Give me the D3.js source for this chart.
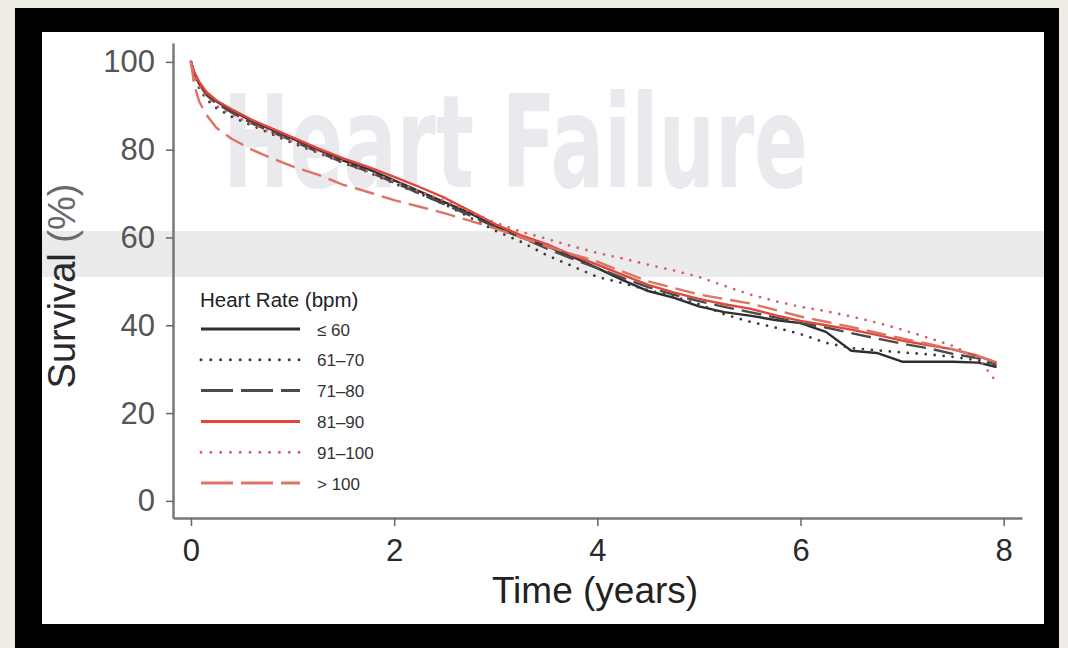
<!DOCTYPE html>
<html><head><meta charset="utf-8">
<script src="https://cdn.jsdelivr.net/npm/d3@7"></script>
<style>
body{margin:0;background:#efebe5;}
svg{display:block;}
</style>
</head><body>
<svg id="c" width="1068" height="648"></svg>
<script>
// ---- data ----
const times = [0, 0.03, 0.08, 0.15, 0.25, 0.4, 0.6, 0.8, 1.0, 1.25, 1.5, 1.75, 2.0, 2.25, 2.5, 2.75, 3.0, 3.25, 3.5, 3.75, 4.0, 4.25, 4.5, 4.75, 5.0, 5.25, 5.5, 5.75, 6.0, 6.25, 6.5, 6.75, 7.0, 7.25, 7.5, 7.75, 7.93];
const survLe60   = [100,97.5,95,93,91,89,86.5,84.5,82.5,80,77.5,75.5,73,70.5,68,65.5,62.5,60,58,55.7,53,50.3,47.8,46.3,44.3,43,42.2,41.2,40.5,38.5,34.2,33.7,31.7,31.7,31.7,31.5,30.5];
const surv61_70  = [100,97,94,91.5,89.5,87.5,85.5,83.5,81.5,79.3,77,74.8,72.3,70,67.5,64.5,61.5,59,56,53.5,51,49.6,48,46.5,44.8,42.5,40.8,39.5,38,36,34.8,34.3,33.8,33.4,32.8,32,31];
const surv71_80  = [100,97.5,95,92.5,90.5,88.5,86,84,82,79.5,77,75,72.5,70,67.5,65,62.3,60,57.5,55.2,53,50.8,48.7,47,45.5,44.2,43,41.8,40.5,39.5,38.2,37,35.8,34.8,33.5,32.5,31];
const surv81_90  = [100,97.8,95.5,93.2,91.2,89.2,86.8,84.8,82.8,80.3,78,76,73.8,71.5,69,66,63,60.5,58.5,56,53.8,51.5,49.2,47.5,46,44.8,43.8,42.3,41,40,39,37.8,36.5,35.5,34.5,33,31.5];
const surv91_100 = [100,97,94.5,92,90,88,85.8,83.8,81.8,79.5,77.3,75,72.8,70.5,68.3,65.8,63.3,61.3,59.7,58,56.5,55.2,53.8,52.5,51,49,47,45.5,44.2,43.2,42,40.6,39,37.2,35.3,32.5,27];
const survGt100  = [100,95,91,88,85,82.5,80,78,76.2,74.3,72,70.3,68.5,67,65.5,63.8,62,60,58,56.2,54.5,52.2,50,48.5,47,46,45,43.5,42,40.8,39.6,38.3,37,35.8,34.5,33,31.5];
const seriesNames = ["≤ 60", "61–70", "71–80", "81–90", "91–100", "> 100"];
const xTicks = [0, 2, 4, 6, 8];
const yTicks = [0, 20, 40, 60, 80, 100];

// ---- styles ----
const seriesValues = [survLe60, surv61_70, surv71_80, surv81_90, surv91_100, survGt100];
const seriesColors = ["#2e2e2e", "#3a3a3a", "#4a4a4a", "#e0463a", "#d65f66", "#dc7363"];
const plotDash   = [null, "0,9", "20,8", null, "0,9", "20,8"];
const legendDash = [null, "0,9.8", "32,8", null, "0,9.8", "32,8"];
const FONT = "'Liberation Sans', Arial, Helvetica, sans-serif";

const svg = d3.select("#c");
svg.append("rect").attr("x",0).attr("y",0).attr("width",1068).attr("height",648).attr("fill","#efebe5");
svg.append("rect").attr("x",15).attr("y",8).attr("width",1044).attr("height",640).attr("fill","#000");
svg.append("rect").attr("x",42).attr("y",32).attr("width",1002).attr("height",592).attr("fill","#fff");

// watermark band + text (text squeezed horizontally to the reference width)
svg.append("rect").attr("x",42).attr("y",231).attr("width",1002).attr("height",46).attr("fill","#ebebeb");
const wm = svg.append("text").attr("x",0).attr("y",0)
  .attr("font-family","'DejaVu Sans Condensed','Liberation Sans',Arial,sans-serif")
  .attr("font-size",128).attr("font-weight","bold").attr("fill","#eaeaee")
  .text("Heart Failure");
const wmLen = wm.node().getComputedTextLength() || 585;
wm.attr("transform", `translate(223,187) scale(${585 / wmLen},1)`);

const x = d3.scaleLinear().domain([-0.177, 8.18]).range([173, 1022]);
const y = d3.scaleLinear().domain([-3.9, 104.3]).range([518, 43]);

// axes
const gy = svg.append("g").attr("transform","translate(173,0)")
  .call(d3.axisLeft(y).tickValues(yTicks).tickSize(7).tickSizeOuter(0).tickPadding(11));
gy.attr("font-family", FONT);
gy.select(".domain").attr("stroke","#777").attr("stroke-width",2.5);
gy.selectAll(".tick line").attr("stroke","#666").attr("stroke-width",1.5);
gy.selectAll(".tick text").attr("font-size",31).attr("fill","#555");

const gx = svg.append("g").attr("transform","translate(0,518)")
  .call(d3.axisBottom(x).tickValues(xTicks).tickSize(8).tickSizeOuter(0).tickPadding(13));
gx.attr("font-family", FONT);
gx.select(".domain").attr("stroke","#777").attr("stroke-width",2.5);
gx.selectAll(".tick line").attr("stroke","#666").attr("stroke-width",1.5);
gx.selectAll(".tick text").attr("font-size",31).attr("fill","#2a2a2a");

// axis titles
svg.append("text").attr("x",595).attr("y",603).attr("text-anchor","middle")
  .attr("font-family",FONT).attr("font-size",37).attr("fill","#222").text("Time (years)");
const yt = svg.append("text").attr("transform","translate(75,286) rotate(-90)")
  .attr("text-anchor","middle").attr("font-family",FONT).attr("font-size",38).attr("fill","#2a2a2a");
yt.append("tspan").text("Survival ");
yt.append("tspan").attr("fill","#6a6a6a").text("(%)");

// curves
const line = d3.line().x((d,i) => x(times[i])).y(d => y(d));
seriesValues.forEach((vals, k) => {
  const p = svg.append("path").datum(vals).attr("d", line)
    .attr("fill","none").attr("stroke", seriesColors[k])
    .attr("stroke-width", plotDash[k] === "0,9" ? 2.8 : 2.4)
    .attr("stroke-linejoin","round");
  if (plotDash[k]) {
    p.attr("stroke-dasharray", plotDash[k]);
    if (plotDash[k].startsWith("0")) p.attr("stroke-linecap","round");
  }
});

// legend
const lg = svg.append("g");
lg.append("text").attr("x",200).attr("y",307).attr("font-family",FONT)
  .attr("font-size",20.5).attr("fill","#222").text("Heart Rate (bpm)");
seriesNames.forEach((name, k) => {
  const ly = 329 + k * 30.8;
  const l = lg.append("line").attr("x1",201).attr("x2",300).attr("y1",ly).attr("y2",ly)
    .attr("stroke", seriesColors[k]).attr("stroke-width", 3);
  if (legendDash[k]) {
    l.attr("stroke-dasharray", legendDash[k]);
    if (legendDash[k].startsWith("0")) l.attr("stroke-linecap","round");
  }
  lg.append("text").attr("x",317).attr("y",ly + 6.5).attr("font-family",FONT)
    .attr("font-size",17).attr("fill","#333").text(name);
});
</script>
</body></html>
